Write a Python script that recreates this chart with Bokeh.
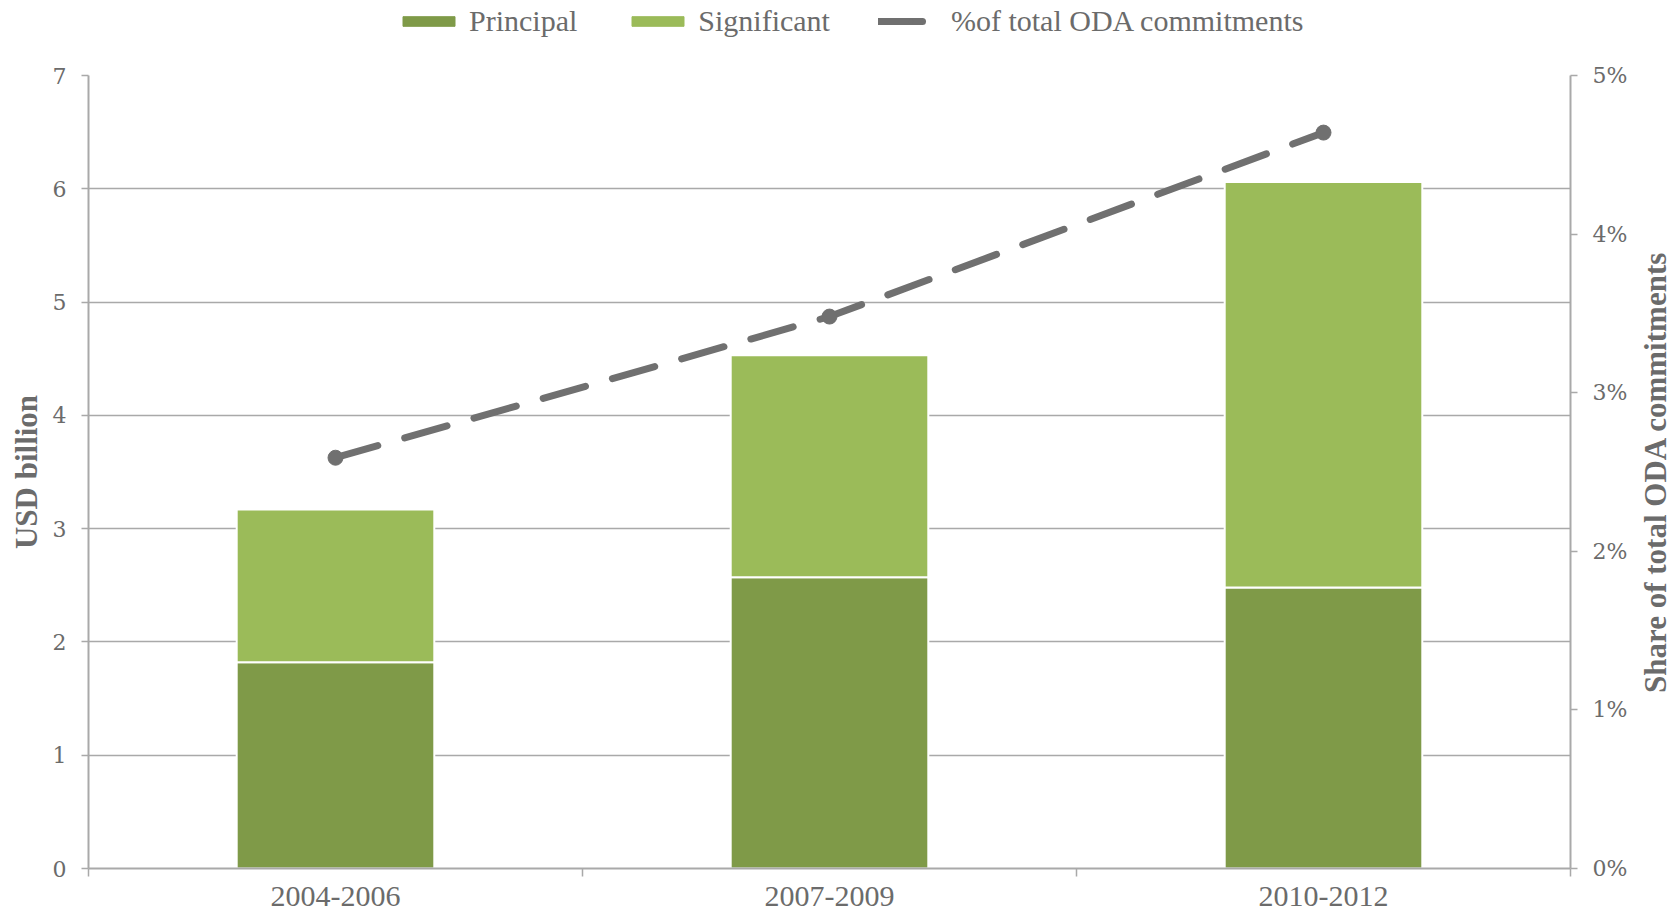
import numpy as np
from bokeh.plotting import figure
from bokeh.layouts import column, row
from bokeh.models import (ColumnDataSource, Range1d, LinearAxis, FixedTicker,
                          PrintfTickFormatter, Legend, LegendItem, Title)
from bokeh.embed import file_html
from bokeh.resources import INLINE

categories = ["2004-2006", "2007-2009", "2010-2012"]
principal = [1.82, 2.57, 2.48]
significant = [1.35, 1.96, 3.58]
share_pct = [2.59, 3.48, 4.64]
usd_ticks = [0, 1, 2, 3, 4, 5, 6, 7]
pct_ticks = [0, 1, 2, 3, 4, 5]
series_names = ["Principal", "Significant", "%of total ODA commitments"]
left_title = "USD billion"
right_title = "Share of total ODA commitments"

FONT = "Liberation Serif"
NUMFONT = "DejaVu Serif"
TXT = "#6b6b6b"
GRID = "#a9a9a9"
C_PRIN = "#7f9a48"
C_SIGN = "#9bbb59"
C_LINE = "#707070"

W, H = 1675, 917
LEG_H = 62
TITLE_W = 40
MAIN_W = W - TITLE_W
MAIN_H = H - LEG_H

xs = np.arange(len(categories)) + 0.5
src = ColumnDataSource(dict(
    x=xs,
    principal=principal,
    significant=significant,
    total=np.array(principal) + np.array(significant),
    share=share_pct,
))

# ---------------- main chart ----------------
p = figure(width=MAIN_W, height=MAIN_H, output_backend="svg", toolbar_location=None,
           x_range=Range1d(0, len(categories)),
           y_range=Range1d(min(usd_ticks), max(usd_ticks)),
           min_border_left=88, min_border_right=65, min_border_top=13,
           min_border_bottom=49)
p.outline_line_color = None
p.background_fill_color = "white"
p.extra_y_ranges = {"pct": Range1d(min(pct_ticks), max(pct_ticks))}

p.vbar(x="x", width=0.4, bottom=0, top="principal", source=src,
       fill_color=C_PRIN, line_color="white", line_width=2)
p.vbar(x="x", width=0.4, bottom="principal", top="total", source=src,
       fill_color=C_SIGN, line_color="white", line_width=2)
p.line(x="x", y="share", source=src, y_range_name="pct",
       line_color=C_LINE, line_width=7, line_dash="44 28", line_cap="round")
p.scatter(x="x", y="share", source=src, y_range_name="pct",
          marker="circle", size=15, fill_color=C_LINE, line_color=C_LINE)

# x axis
xa = p.xaxis[0]
xa.ticker = FixedTicker(ticks=list(xs), minor_ticks=list(range(len(categories) + 1)))
xa.major_label_overrides = {float(x): c for x, c in zip(xs, categories)}
xa.major_tick_line_color = None
xa.major_tick_out = 0
xa.major_tick_in = 0
xa.minor_tick_out = 8
xa.minor_tick_in = 0
xa.minor_tick_line_color = GRID
xa.minor_tick_line_width = 1.5
xa.axis_line_color = GRID
xa.axis_line_width = 2
xa.major_label_text_font = FONT
xa.major_label_text_font_size = "30px"
xa.major_label_text_color = TXT
xa.major_label_standoff = 10

# left axis
ya = p.yaxis[0]
ya.ticker = FixedTicker(ticks=usd_ticks)
ya.minor_tick_line_color = None
ya.major_tick_out = 7
ya.major_tick_in = 0
ya.major_tick_line_color = GRID
ya.major_tick_line_width = 1.5
ya.axis_line_color = GRID
ya.axis_line_width = 2
ya.major_label_text_font = NUMFONT
ya.major_label_text_font_size = "22px"
ya.major_label_text_color = TXT
ya.major_label_standoff = 15
ya.axis_label = left_title
ya.axis_label_text_font = FONT
ya.axis_label_text_font_style = "bold"
ya.axis_label_text_font_size = "31px"
ya.axis_label_text_color = TXT
ya.axis_label_standoff = 6

# right axis (its title is drawn in the neighbouring strip so it reads bottom-to-top)
ra = LinearAxis(y_range_name="pct", ticker=FixedTicker(ticks=pct_ticks),
                formatter=PrintfTickFormatter(format="%d%%"))
ra.minor_tick_line_color = None
ra.major_tick_out = 7
ra.major_tick_in = 0
ra.major_tick_line_color = GRID
ra.major_tick_line_width = 1.5
ra.axis_line_color = GRID
ra.axis_line_width = 2
ra.major_label_text_font = NUMFONT
ra.major_label_text_font_size = "22px"
ra.major_label_text_color = TXT
ra.major_label_standoff = 15
p.add_layout(ra, "right")

p.xgrid.grid_line_color = None
p.ygrid.ticker = FixedTicker(ticks=usd_ticks)
p.ygrid.grid_line_color = GRID
p.ygrid.grid_line_width = 1.5

# ---------------- right title strip ----------------
t = figure(width=TITLE_W, height=MAIN_H, output_backend="svg", toolbar_location=None,
           x_axis_location=None, y_axis_location=None,
           x_range=Range1d(0, 1), y_range=Range1d(0, 1),
           min_border_left=0, min_border_right=0, min_border_top=13,
           min_border_bottom=49)
t.outline_line_color = None
t.grid.visible = False
t.add_layout(Title(text=right_title, align="center", text_font=FONT,
                   text_font_style="bold", text_font_size="31px",
                   text_color=TXT, standoff=0), "left")

# ---------------- legend strip ----------------
# legend proxies use the same data, but the strip's ranges keep them off-screen
lf = figure(width=W, height=LEG_H, output_backend="svg", toolbar_location=None,
            x_axis_location=None, y_axis_location=None,
            x_range=Range1d(100, 101), y_range=Range1d(100, 101),
            min_border_left=0, min_border_right=0, min_border_top=0,
            min_border_bottom=0)
lf.outline_line_color = None
lf.grid.visible = False
g_p = lf.vbar(x="x", top="principal", width=0.4, source=src,
              fill_color=C_PRIN, line_color=C_PRIN)
g_s = lf.vbar(x="x", bottom="principal", top="total", width=0.4, source=src,
              fill_color=C_SIGN, line_color=C_SIGN)
g_l = lf.line(x="x", y="share", source=src, line_color=C_LINE, line_width=7,
              line_dash="44 28", line_cap="round")
g_c = lf.scatter(x="x", y="share", source=src, marker="circle", size=15,
                 fill_color=C_LINE, line_color=C_LINE)

legend = Legend(items=[
    LegendItem(label=series_names[0], renderers=[g_p]),
    LegendItem(label=series_names[1], renderers=[g_s]),
    LegendItem(label=series_names[2], renderers=[g_l, g_c]),
], orientation="horizontal", location=(396, 24))
legend.label_text_font = FONT
legend.label_text_font_size = "30px"
legend.label_text_color = TXT
legend.glyph_width = 65
legend.glyph_height = 12
legend.label_standoff = 8
legend.spacing = 48
legend.padding = 2
legend.margin = 0
legend.border_line_color = None
legend.background_fill_alpha = 0
lf.add_layout(legend, "center")

layout = column(lf, row(p, t))
open("out.html", "w").write(file_html(layout, INLINE))
